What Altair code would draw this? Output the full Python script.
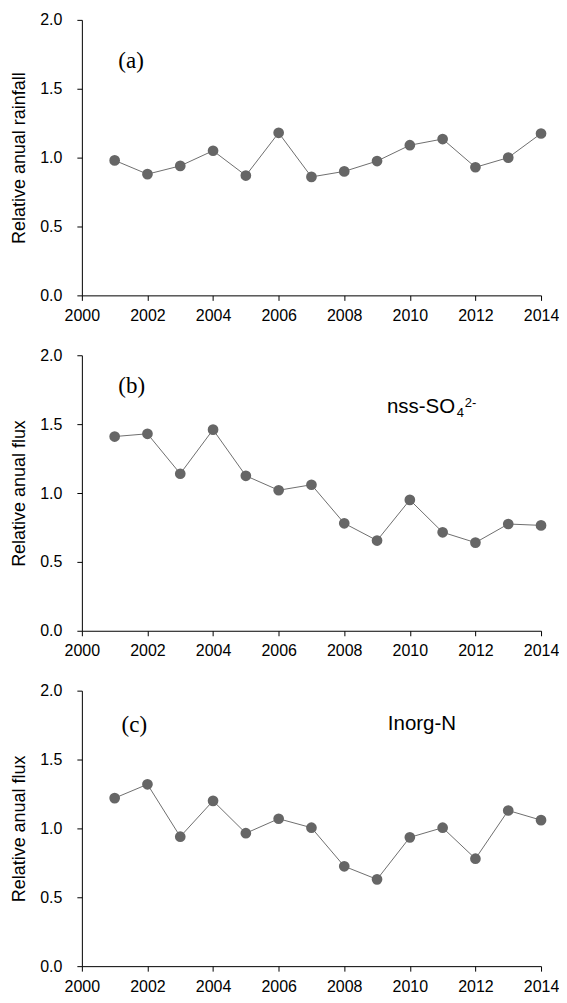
import altair as alt
import pandas as pd

years = list(range(2001, 2015))
rainfall = [0.98, 0.88, 0.94, 1.05, 0.87, 1.18, 0.86, 0.90, 0.975, 1.09, 1.135, 0.93, 1.00, 1.175]
so4_flux = [1.41, 1.43, 1.14, 1.46, 1.125, 1.02, 1.06, 0.78, 0.655, 0.95, 0.715, 0.64, 0.775, 0.765]
inorgn_flux = [1.22, 1.32, 0.94, 1.20, 0.965, 1.07, 1.005, 0.725, 0.63, 0.935, 1.005, 0.78, 1.13, 1.06]

panel_letters = ["(a)", "(b)", "(c)"]
letter_x = [2001.5, 2001.52, 2001.6]
letter_y = [1.70, 1.775, 1.747]
# species label pieces: main text, subscript, superscript
species_main = [None, "nss-SO", "Inorg-N"]
species_sub = [None, "4", None]
species_sup = [None, "2-", None]
species_x = [None, 2009.3, 2009.33]
species_y = [None, 1.625, 1.76]
y_titles = ["Relative anual rainfall", "Relative anual flux", "Relative anual flux"]
x_ticks = [2000, 2002, 2004, 2006, 2008, 2010, 2012, 2014]
y_ticks = [0.0, 0.5, 1.0, 1.5, 2.0]

GRAY = "#666666"
FONT = "Liberation Sans"


def panel(values, ytitle, letter, lx, ly, smain, ssub, ssup, sx, sy):
    df = pd.DataFrame({"year": years, "value": values})
    x = alt.X("year:Q", scale=alt.Scale(domain=[2000, 2014], nice=False),
              axis=alt.Axis(values=x_ticks, format="d", title=None, grid=False,
                            domainColor="black", tickColor="black", tickSize=5,
                            labelPadding=7, labelFontSize=16, labelFont=FONT,
                            labelColor="black", labelFlush=False))
    y = alt.Y("value:Q", scale=alt.Scale(domain=[0, 2], nice=False),
              axis=alt.Axis(values=y_ticks, format=".1f", title=ytitle, grid=False,
                            domainColor="black", tickColor="black", tickSize=5,
                            labelPadding=15, labelFontSize=16, labelFont=FONT,
                            labelColor="black", titleFont=FONT, titleFontSize=18,
                            titleFontWeight="normal", titleColor="black",
                            titlePadding=11))
    base = alt.Chart(df)
    line = base.mark_line(color="#6e6e6e", strokeWidth=1).encode(x=x, y=y)
    pts = base.mark_circle(color=GRAY, opacity=1, size=115).encode(x=x, y=y)
    layers = [line, pts]
    ldf = pd.DataFrame({"year": [lx], "value": [ly], "t": [letter]})
    layers.append(alt.Chart(ldf).mark_text(font="Liberation Serif", fontSize=23,
                                           color="black", align="center",
                                           baseline="middle")
                  .encode(x="year:Q", y="value:Q", text="t:N"))
    if smain:
        sdf = pd.DataFrame({"year": [sx], "value": [sy], "t": [smain]})
        layers.append(alt.Chart(sdf).mark_text(font=FONT, fontSize=20.5,
                                               color="black", align="left",
                                               baseline="middle")
                      .encode(x="year:Q", y="value:Q", text="t:N"))
    if ssub:
        sdf = pd.DataFrame({"year": [sx], "value": [sy], "t": [ssub]})
        layers.append(alt.Chart(sdf).mark_text(font=FONT, fontSize=13, dx=70, dy=6,
                                               color="black", align="left",
                                               baseline="middle")
                      .encode(x="year:Q", y="value:Q", text="t:N"))
    if ssup:
        sdf = pd.DataFrame({"year": [sx], "value": [sy], "t": [ssup]})
        layers.append(alt.Chart(sdf).mark_text(font=FONT, fontSize=13, dx=78, dy=-4,
                                               color="black", align="left",
                                               baseline="middle")
                      .encode(x="year:Q", y="value:Q", text="t:N"))
    return alt.layer(*layers).properties(width=460, height=276)


charts = [panel(*args) for args in
          zip([rainfall, so4_flux, inorgn_flux], y_titles, panel_letters, letter_x,
              letter_y, species_main, species_sub, species_sup, species_x, species_y)]

chart = alt.vconcat(*charts, spacing=60, bounds="flush").properties(
    padding={"left": 2, "top": 3, "right": 0, "bottom": 0},
    background="white",
).configure_view(strokeWidth=0)

chart.save("out.html", embed_options={"renderer": "svg", "actions": False})
